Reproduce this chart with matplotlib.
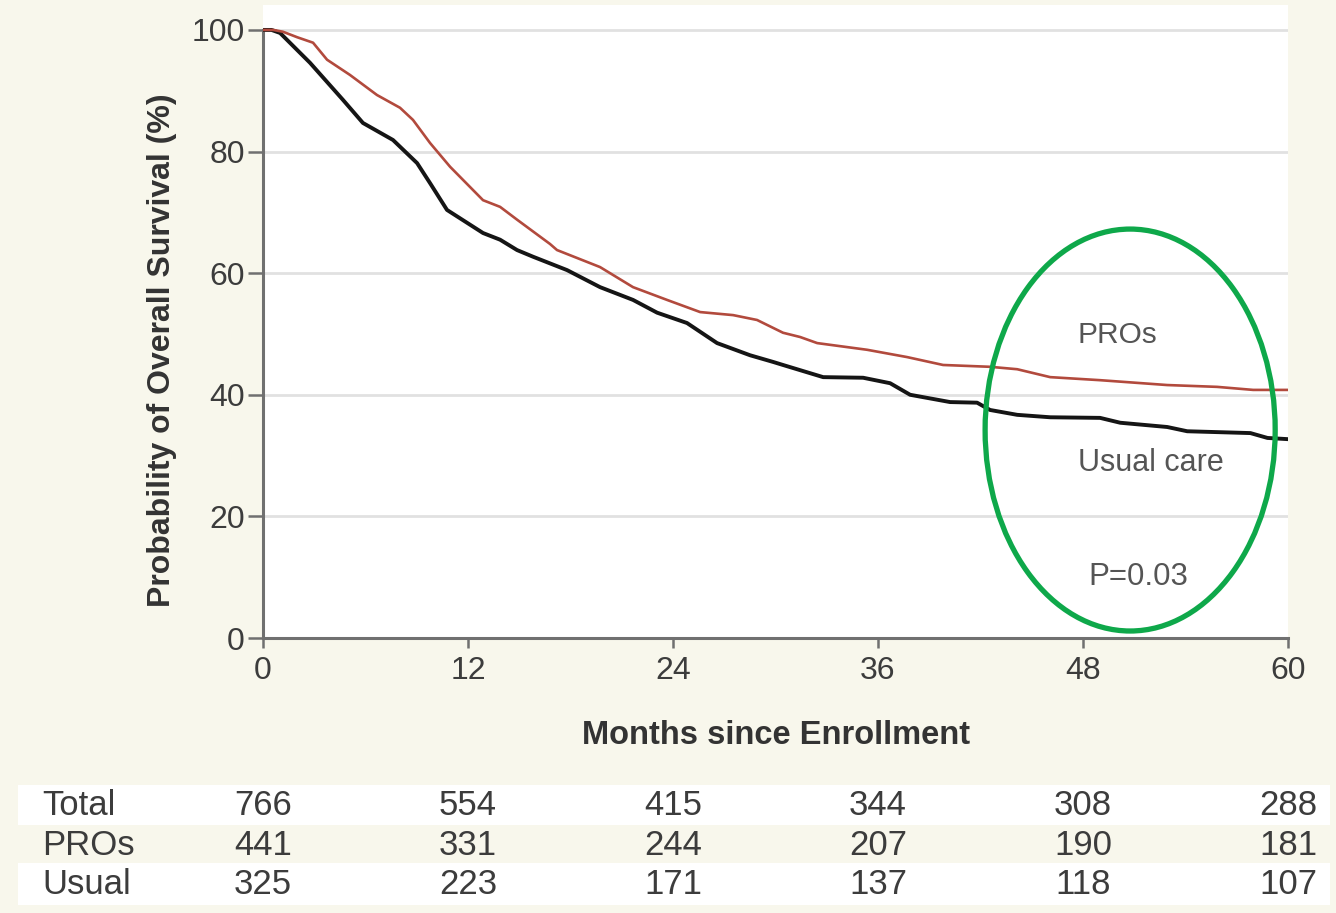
import matplotlib
matplotlib.use('Agg')
import matplotlib.pyplot as plt
from matplotlib import font_manager
from matplotlib.patches import Ellipse, Rectangle
from matplotlib.transforms import blended_transform_factory

# survival curves (months, % surviving)
pros_months = [0, 0.6, 1.17, 2.0, 2.93, 3.75, 5.09, 6.67, 8.02, 8.78, 9.78, 10.95, 12.88,
               13.88, 14.87, 16.8, 17.21, 19.73, 21.66, 23.65, 25.59, 27.52, 28.92, 30.44,
               31.44, 32.44, 35.36, 37.7, 39.81, 42.56, 44.15, 46.08, 49.0, 52.93, 55.85,
               57.96, 60]
pros_surv = [100, 100, 99.7, 98.8, 97.9, 95.1, 92.6, 89.3, 87.2, 85.2, 81.4, 77.5, 72.0,
             70.9, 68.8, 64.8, 63.8, 61.0, 57.7, 55.6, 53.6, 53.1, 52.3, 50.2,
             49.5, 48.5, 47.4, 46.2, 44.9, 44.6, 44.2, 42.9, 42.4, 41.6, 41.3,
             40.8, 40.8]

usual_months = [0, 0.5, 1.0, 2.75, 4.68, 5.85, 7.61, 9.02, 9.78, 10.77, 12.88, 13.88,
                14.87, 15.81, 17.8, 19.73, 21.66, 23.07, 24.82, 26.58, 28.51, 29.86, 30.44,
                32.79, 35.13, 36.71, 37.88, 40.22, 41.8, 42.56, 44.15, 46.08, 49.0, 50.18,
                52.93, 54.1, 57.8, 58.8, 60]
usual_surv = [100, 100, 99.5, 94.6, 88.5, 84.7, 81.9, 78.1, 74.8, 70.4, 66.6, 65.5,
              63.8, 62.7, 60.5, 57.7, 55.6, 53.5, 51.8, 48.5, 46.5, 45.4, 44.9,
              42.9, 42.8, 41.9, 40.0, 38.8, 38.7, 37.5, 36.7, 36.3, 36.2, 35.4,
              34.7, 34.0, 33.7, 32.9, 32.7]

x_ticks = [0, 12, 24, 36, 48, 60]
y_ticks = [0, 20, 40, 60, 80, 100]

# numbers at risk
risk_labels = ['Total', 'PROs', 'Usual']
risk_total = [766, 554, 415, 344, 308, 288]
risk_pros = [441, 331, 244, 207, 190, 181]
risk_usual = [325, 223, 171, 137, 118, 107]

cream = '#f8f7ec'
plt.rcParams['font.family'] = ['Liberation Sans', 'DejaVu Sans']
names = {f.name for f in font_manager.fontManager.ttflist}
narrow = 'Liberation Sans Narrow' if 'Liberation Sans Narrow' in names else 'Liberation Sans'

W, H = 1336, 913
fig = plt.figure(figsize=(W / 100, H / 100), dpi=100, facecolor=cream)
ax = fig.add_axes([263 / W, 1 - 638 / H, 1025 / W, 633 / H])
ax.set_facecolor('white')

for y in y_ticks[1:]:
    ax.axhline(y, color='#e1e1e1', lw=2, zorder=1)

ax.plot(usual_months, usual_surv, color='#151515', lw=2.8, zorder=3, solid_joinstyle='round')
ax.plot(pros_months, pros_surv, color='#b24a3d', lw=1.9, zorder=4, solid_joinstyle='round')

ax.set_xlim(0, 60)
ax.set_ylim(0, 104.1)
ax.set_xticks(x_ticks)
ax.set_yticks(y_ticks)
for s in ['top', 'right']:
    ax.spines[s].set_visible(False)
for s in ['left', 'bottom']:
    ax.spines[s].set_color('#707070')
    ax.spines[s].set_linewidth(2.2)
ax.spines['left'].set_bounds(0, 100)
ax.tick_params(axis='x', direction='out', length=7, width=1.8, color='#707070',
               pad=6, labelsize=23, labelcolor='#3c3c3c')
ax.tick_params(axis='y', direction='out', length=11, width=1.8, color='#707070',
               pad=2, labelsize=23, labelcolor='#3c3c3c')

# labels inside the plot
ax.text(47.7, 49.8, 'PROs', fontsize=21.5, color='#555555', va='center', ha='left')
ax.text(47.7, 28.8, 'Usual care', fontsize=22, color='#555555', va='center', ha='left')
ax.text(48.3, 10.0, 'P=0.03', fontsize=22.5, color='#555555', va='center', ha='left')

ax.add_patch(Ellipse((50.76, 34.2), 16.98, 66.1, fill=False, edgecolor='#0ea84a',
                     lw=3.8, zorder=6, clip_on=False))

fig.text(162 / W, 1 - 350 / H, 'Probability of Overall Survival (%)', rotation=90,
         ha='center', va='center', fontsize=23, fontweight='bold', color='#333333')
fig.text(776 / W, 1 - 735 / H, 'Months since Enrollment', ha='center', va='center',
         fontsize=23.5, fontweight='bold', color='#333333')

# at-risk table
for y0, y1 in [(785, 825), (863, 905)]:
    fig.patches.append(Rectangle((18 / W, 1 - y1 / H), 1312 / W, (y1 - y0) / H,
                                 transform=fig.transFigure, facecolor='white',
                                 edgecolor='none', zorder=-1))

trans = blended_transform_factory(ax.transData, fig.transFigure)
row_y = [805, 845, 884]
for lab, vals, yy in zip(risk_labels, [risk_total, risk_pros, risk_usual], row_y):
    fig.text(42 / W, 1 - yy / H, lab, ha='left', va='center', fontsize=25,
             family=narrow, color='#3c3c3c')
    for m, v in zip(x_ticks, vals):
        fig.text(m, 1 - yy / H, str(v), transform=trans, ha='center', va='center',
                 fontsize=25, family=narrow, color='#3c3c3c')

fig.savefig('out.png', dpi=100, facecolor=cream)
